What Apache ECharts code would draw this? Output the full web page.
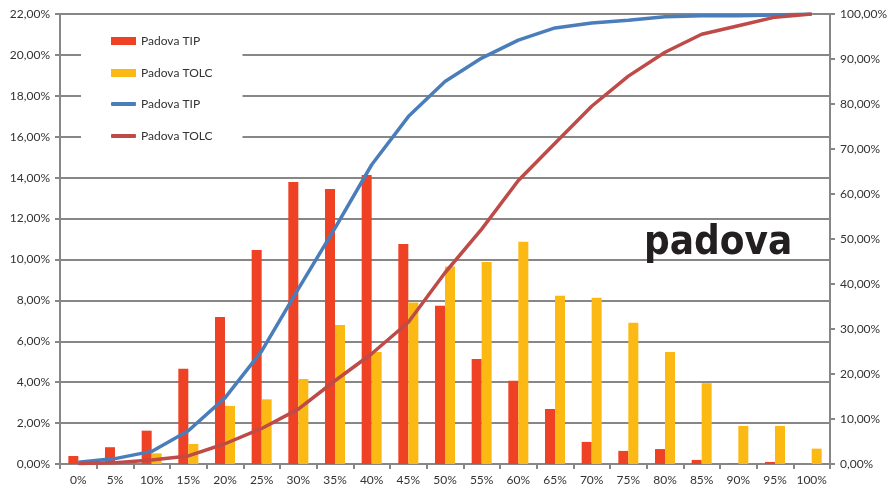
<!DOCTYPE html>
<html><head><meta charset="utf-8">
<script src="https://cdn.jsdelivr.net/npm/echarts@6/dist/echarts.min.js"></script>
<style>html,body{margin:0;padding:0;background:#fff}#c{width:892px;height:494px}</style>
</head><body><div id="c"></div>
<script>
const categories = ['0%','5%','10%','15%','20%','25%','30%','35%','40%','45%','50%','55%','60%','65%','70%','75%','80%','85%','90%','95%','100%'];
const tipBars  = [0.39,0.82,1.63,4.66,7.19,10.46,13.79,13.45,14.13,10.76,7.74,5.13,4.07,2.69,1.08,0.64,0.73,0.20,0.02,0.10,0];
const tolcBars = [0,0,0.52,0.98,2.84,3.16,4.16,6.80,5.48,7.89,9.65,9.88,10.87,8.23,8.13,6.91,5.48,3.95,1.86,1.86,0.75];
const tipCum   = [0.4,1.2,2.8,7.4,14.7,25.1,38.9,52.4,66.5,77.2,85.0,90.2,94.2,96.9,98.0,98.6,99.4,99.6,99.6,99.8,100];
const tolcCum  = [0.1,0.3,0.9,1.8,4.5,7.9,12.2,18.5,24.5,31.5,42.5,52.2,63.0,71.3,79.5,86.2,91.5,95.5,97.4,99.3,100];
const leftTicks = {min:0, max:22, interval:2};
const rightTicks = {min:0, max:100, interval:10};

const FONT = 'Lato';
const fmt = v => v.toFixed(2).replace('.', ',') + '%';
const chart = echarts.init(document.getElementById('c'), null, {renderer:'canvas'});
const axisGray = '#878787';
const legendText = {fontFamily:FONT, fontSize:12, color:'#333'};
chart.setOption({
  animation:false,
  textStyle:{fontFamily:FONT},
  grid:{left:60, right:62, top:14, bottom:30},
  legend:[{
    orient:'vertical', left:81, top:25,
    padding:[10,30,11,30], backgroundColor:'#fff',
    itemWidth:25, itemHeight:8, itemGap:20,
    textStyle:legendText,
    data:[{name:'Padova TIP', icon:'rect'}, {name:'Padova TOLC', icon:'rect'}]
  },{
    orient:'vertical', left:81, top:90,
    padding:[8,30,10,30], backgroundColor:'#fff',
    itemWidth:25, itemHeight:4, itemGap:20,
    textStyle:legendText,
    formatter: n => n.trim(),
    data:[{name:'Padova TIP ', icon:'roundRect'}, {name:'Padova TOLC ', icon:'roundRect'}]
  }],
  xAxis:{
    type:'category', data:categories, boundaryGap:true,
    axisLine:{lineStyle:{color:axisGray, width:2}},
    axisTick:{show:true, length:5, lineStyle:{color:axisGray, width:2}},
    axisLabel:{color:'#333', fontSize:12, fontFamily:FONT, margin:10, interval:0}
  },
  yAxis:[
    {type:'value', min:leftTicks.min, max:leftTicks.max, interval:leftTicks.interval,
     axisLine:{show:true, lineStyle:{color:axisGray, width:2}},
     axisTick:{show:true, length:5, lineStyle:{color:axisGray, width:2}},
     splitLine:{lineStyle:{color:axisGray, width:2}},
     axisLabel:{formatter:fmt, color:'#333', fontSize:12, fontFamily:FONT, margin:10}},
    {type:'value', min:rightTicks.min, max:rightTicks.max, interval:rightTicks.interval, position:'right',
     axisLine:{show:true, lineStyle:{color:axisGray, width:2}},
     axisTick:{show:true, length:5, lineStyle:{color:axisGray, width:2}},
     splitLine:{show:false},
     axisLabel:{formatter:fmt, color:'#333', fontSize:12, fontFamily:FONT, margin:10}}
  ],
  graphic:[{
    type:'text', left:644, top:224, z:1,
    style:{text:'padova', font:'bold 40px "DejaVu Sans Condensed", "DejaVu Sans"', fill:'#231f20'}
  }],
  series:[
    {name:'Padova TIP', type:'bar', yAxisIndex:0, data:tipBars, barWidth:10, barGap:'0%',
     itemStyle:{color:'#EF4123'}},
    {name:'Padova TOLC', type:'bar', yAxisIndex:0, data:tolcBars, barWidth:10, barGap:'0%',
     itemStyle:{color:'#FDB913'}},
    {name:'Padova TIP ', type:'line', yAxisIndex:1, data:tipCum, symbol:'none', showSymbol:false,
     lineStyle:{color:'#4A7EBB', width:3.5}, itemStyle:{color:'#4A7EBB'}, z:5},
    {name:'Padova TOLC ', type:'line', yAxisIndex:1, data:tolcCum, symbol:'none', showSymbol:false,
     lineStyle:{color:'#BE4B48', width:3.5}, itemStyle:{color:'#BE4B48'}, z:5}
  ]
});
</script></body></html>
